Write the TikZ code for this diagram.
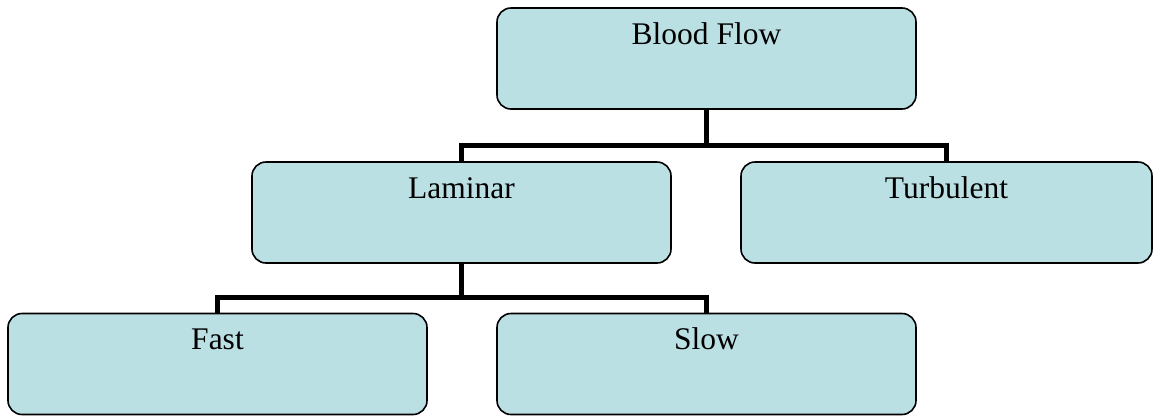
\documentclass[tikz,border=0pt]{standalone}
\usepackage{fontspec}
\setmainfont{Liberation Serif}
\definecolor{boxfill}{RGB}{187,224,227}
\begin{document}
\begin{tikzpicture}[x=1pt,y=-1pt,
  box/.style={draw=black, fill=boxfill, line width=1.6pt, rounded corners=14pt,
    minimum width=419pt, inner sep=0pt, text height=36pt, text depth=65pt,
    font=\fontsize{31.5}{36}\selectfont},
  conn/.style={draw=black, line width=5pt, line join=miter}]
\useasboundingbox (0,0) rectangle (1154,416);
\node[box] (bf) at (706.5,58.5) {Blood Flow};
\node[box] (lam) at (461.5,212.5) {Laminar};
\node[box, minimum width=411pt] (tur) at (946.5,212.5) {Turbulent};
\node[box] (fast) at (217.5,364) {Fast};
\node[box] (slow) at (706.5,364) {Slow};
\draw[conn] (bf.south) -- ++(0,36) -| (lam.north);
\draw[conn] (bf.south) -- ++(0,36) -| (tur.north);
\draw[conn] (lam.south) -- ++(0,34) -| (fast.north);
\draw[conn] (lam.south) -- ++(0,34) -| (slow.north);
\end{tikzpicture}
\end{document}
